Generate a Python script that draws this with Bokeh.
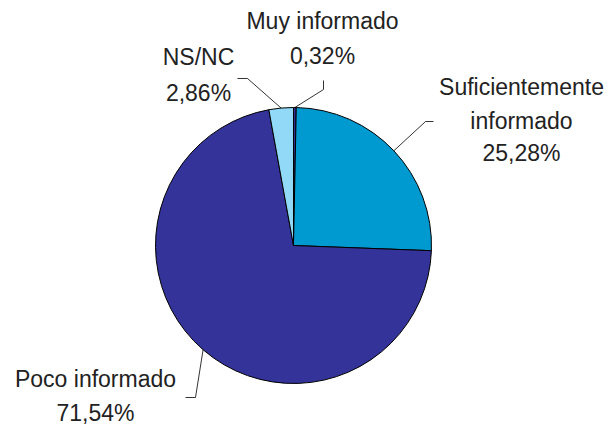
import math
from bokeh.plotting import figure
from bokeh.models import Range1d, ColumnDataSource
from bokeh.core.properties import value
from bokeh.embed import file_html
from bokeh.resources import INLINE

categories = ["Muy informado", "Suficientemente informado", "Poco informado", "NS/NC"]
percentages = [0.32, 25.28, 71.54, 2.86]
pct_labels = ["0,32%", "25,28%", "71,54%", "2,86%"]
colors = ["#2E3192", "#0099D0", "#333399", "#92D9F8"]

label_lines = [["Muy informado", "0,32%"],
               ["Suficientemente", "informado", "25,28%"],
               ["Poco informado", "71,54%"],
               ["NS/NC", "2,86%"]]

W, H = 616, 425
def X(px):
    return px
def Y(py):
    return H - py

cx, cy, r = 293, 245, 138

p = figure(width=W, height=H, output_backend="svg", toolbar_location=None,
           x_range=Range1d(0, W), y_range=Range1d(0, H),
           min_border=0)
p.axis.visible = False
p.grid.visible = False
p.outline_line_color = None
p.background_fill_color = "white"

total = sum(percentages)
cum = 0.0
starts, ends, mids = [], [], []
for v in percentages:
    a0 = cum / total
    cum += v
    a1 = cum / total
    starts.append(math.pi / 2 - 2 * math.pi * a1)
    ends.append(math.pi / 2 - 2 * math.pi * a0)
    mids.append(math.pi / 2 - 2 * math.pi * (a0 + a1) / 2)

src = ColumnDataSource(dict(start=starts, end=ends, color=colors, cat=categories))
p.wedge(x=X(cx), y=Y(cy), radius=r, start_angle="start", end_angle="end",
        fill_color="color", line_color="black", line_width=1, source=src)

elbows = [(323, 89), (425, 121), (195, 397), (247, 78)]
tails = [(323, 80), (433, 121), (185, 397), (237, 78)]
for m, e, t in zip(mids, elbows, tails):
    sx = cx + r * math.cos(m)
    sy = cy - r * math.sin(m)
    p.line([X(sx), X(e[0]), X(t[0])], [Y(sy), Y(e[1]), Y(t[1])],
           line_color="black", line_width=0.8)

label_centers = [(322, [20, 55]), (521, [86, 120, 152]), (95, [378, 412]), (198, [56, 92])]
for lines, (lx, ys) in zip(label_lines, label_centers):
    p.text(x=[X(lx)] * len(lines), y=[Y(yy) for yy in ys], text=lines,
           text_font=value("Liberation Sans"), text_font_size="23px",
           text_color="#222222", text_align="center", text_baseline="middle")

open("out.html", "w").write(file_html(p, INLINE))
